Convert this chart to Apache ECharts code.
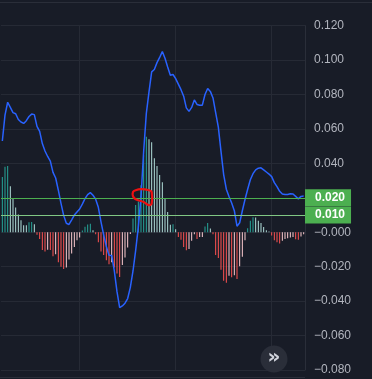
<!DOCTYPE html>
<html>
<head>
<meta charset="utf-8">
<script src="https://cdn.jsdelivr.net/npm/echarts@6/dist/echarts.min.js"></script>
<style>
  html, body { margin: 0; padding: 0; background: #181c27; }
  #chart { width: 372px; height: 379px; }
</style>
</head>
<body>
<div id="chart"></div>
<script>
// MACD 柱状图数值（每根K线一个）
const histValues = [
    0.0321, 0.0380, 0.0385, 0.0267, 0.0196, 0.0143, 0.0103, 0.0070, 0.0041, 0.0040,
    0.0058, 0.0059, 0.0046, -0.0015, -0.0039, -0.0103, -0.0112, -0.0101, -0.0103, -0.0139,
    -0.0128, -0.0174, -0.0201, -0.0213, -0.0205, -0.0159, -0.0124, -0.0085, -0.0046, -0.0031,
    0.0010, 0.0032, 0.0045, 0.0049, 0.0012, -0.0012, -0.0058, -0.0112, -0.0132, -0.0163,
    -0.0186, -0.0174, -0.0205, -0.0240, -0.0260, -0.0190, -0.0147, -0.0089, -0.0010, 0.0080,
    0.0158, 0.0178, 0.0273, 0.0447, 0.0554, 0.0540, 0.0523, 0.0430, 0.0384, 0.0333,
    0.0290, 0.0198, 0.0118, 0.0044, 0.0047, 0.0017, -0.0027, -0.0043, -0.0085, -0.0105,
    -0.0097, -0.0050, -0.0012, -0.0039, -0.0027, -0.0027, 0.0033, 0.0054, 0.0021, -0.0012,
    -0.0132, -0.0150, -0.0218, -0.0281, -0.0294, -0.0252, -0.0262, -0.0250, -0.0272, -0.0198,
    -0.0143, -0.0046, 0.0023, 0.0066, 0.0087, 0.0085, 0.0066, 0.0054, 0.0031, 0.0012,
    0.0005, -0.0019, -0.0046, -0.0058, -0.0066, -0.0050, -0.0039, -0.0035, -0.0030, -0.0028,
    -0.0040, -0.0044, -0.0025, -0.0012
];

// MACD 快线
const macdValues = [
    0.0530, 0.0680, 0.0755, 0.0725, 0.0695, 0.0688, 0.0655, 0.0640, 0.0632, 0.0648,
    0.0672, 0.0686, 0.0683, 0.0615, 0.0586, 0.0515, 0.0472, 0.0440, 0.0413, 0.0348,
    0.0315, 0.0244, 0.0168, 0.0098, 0.0052, 0.0045, 0.0072, 0.0100, 0.0118, 0.0135,
    0.0163, 0.0195, 0.0218, 0.0230, 0.0215, 0.0192, 0.0145, 0.0060, -0.0015, -0.0082,
    -0.0134, -0.0135, -0.0225, -0.0345, -0.0438, -0.0428, -0.0412, -0.0385, -0.0320, -0.0225,
    -0.0105, 0.0031, 0.0205, 0.0470, 0.0690, 0.0815, 0.0931, 0.0945, 0.0985, 0.1015,
    0.1050, 0.1010, 0.0960, 0.0912, 0.0916, 0.0892, 0.0860, 0.0828, 0.0790, 0.0722,
    0.0702, 0.0725, 0.0768, 0.0742, 0.0738, 0.0738, 0.0800, 0.0835, 0.0818, 0.0780,
    0.0695, 0.0610, 0.0470, 0.0335, 0.0250, 0.0208, 0.0170, 0.0125, 0.0035, 0.0055,
    0.0125, 0.0190, 0.0250, 0.0305, 0.0340, 0.0362, 0.0372, 0.0374, 0.0362, 0.0350,
    0.0338, 0.0323, 0.0288, 0.0265, 0.0238, 0.0222, 0.0219, 0.0219, 0.0224, 0.0222,
    0.0208, 0.0194, 0.0208, 0.0210
];

// 水平参考线
const levelValues = [0.020, 0.010];

// 红色手绘圈（K线序号, 数值）
const circleIdx = [49.1, 49.7, 51.6, 55.4, 56.0, 56.2, 55.4, 52.9, 50.4, 49.4];
const circleVal = [0.0234, 0.0244, 0.0250, 0.0244, 0.0234, 0.0167, 0.0157, 0.0176, 0.0192, 0.0209];

const categories = histValues.map((v, i) => String(i));

// 柱子颜色: 正值上升/下降, 负值下降/上升
function histColor(i) {
    const v = histValues[i];
    const prev = i > 0 ? histValues[i - 1] : v;
    if (v >= 0) return v >= prev ? '#26a69a' : '#b2dfdb';
    return v < prev ? '#ff5252' : '#ffcdd2';
}

function fmt(v) {
    const s = Math.abs(v).toFixed(3);
    return (v <= 0 ? '\u2212' : '') + s;
}

const chart = echarts.init(document.getElementById('chart'));

const option = {
    backgroundColor: '#181c27',
    animation: false,
    grid: {
        left: 1,
        right: 67,
        top: 25.6,
        bottom: 9
    },
    xAxis: {
        type: 'category',
        data: categories,
        boundaryGap: true,
        axisLine: { show: false },
        axisTick: { show: false },
        axisLabel: { show: false },
        splitLine: {
            show: true,
            alignWithLabel: true,
            interval: (idx) => idx % 36 === 29,
            lineStyle: { color: '#262a35', width: 1 }
        }
    },
    yAxis: {
        type: 'value',
        position: 'right',
        min: -0.08,
        max: 0.12,
        interval: 0.02,
        axisLine: { show: true, lineStyle: { color: '#2a2e39' } },
        axisTick: { show: false },
        axisLabel: {
            color: '#b2b5be',
            fontSize: 12,
            fontFamily: 'Liberation Sans',
            margin: 9,
            formatter: (v) => Math.abs(v - 0.02) < 1e-9 ? '' : fmt(v)
        },
        splitLine: { lineStyle: { color: '#262a35', width: 1 } }
    },
    series: [
        {
            name: 'hist',
            type: 'bar',
            barWidth: 1,
            data: histValues.map((v, i) => ({ value: v, itemStyle: { color: histColor(i) } })),
            z: 2
        },
        {
            name: 'macd',
            type: 'line',
            data: macdValues,
            symbol: 'none',
            lineStyle: { color: '#2962ff', width: 1.5 },
            z: 4,
            markLine: {
                silent: true,
                symbol: 'none',
                data: levelValues.map((v, i) => ({
                    yAxis: v,
                    lineStyle: { color: i === 0 ? '#4caf50' : '#81c784', width: 1, type: 'solid' }
                })),
                label: {
                    show: true,
                    position: 'end',
                    distance: 0,
                    formatter: (p) => p.value.toFixed(3),
                    backgroundColor: '#4caf50',
                    color: '#ffffff',
                    fontWeight: 'bold',
                    fontSize: 12,
                    fontFamily: 'Liberation Sans',
                    lineHeight: 13,
                    padding: [2, 6, 2, 10]
                }
            }
        }
    ]
};

chart.setOption(option);

// 画面边框、红圈和右下角按钮
const circlePts = circleIdx.map((x, i) => chart.convertToPixel({ gridIndex: 0 }, [x, circleVal[i]]));

chart.setOption({
    graphic: [
        {
            type: 'line',
            shape: { x1: 0, y1: 2.5, x2: 372, y2: 2.5 },
            style: { stroke: '#2a2e39', lineWidth: 1 },
            silent: true
        },
        {
            type: 'line',
            shape: { x1: 0, y1: 377.5, x2: 305, y2: 377.5 },
            style: { stroke: '#2a2e39', lineWidth: 1 },
            silent: true
        },
        {
            type: 'polygon',
            shape: { points: circlePts, smooth: 0.35 },
            style: { stroke: '#ee1111', fill: null, lineWidth: 2.2 },
            z: 100,
            silent: true
        },
        {
            type: 'circle',
            shape: { cx: 274, cy: 359, r: 13.5 },
            style: { fill: '#2a2e39' },
            z: 100,
            silent: true
        },
        {
            type: 'text',
            x: 274,
            y: 358,
            style: {
                text: '\u00bb',
                fill: '#d1d4dc',
                fontSize: 20,
                fontWeight: 'bold',
                fontFamily: 'DejaVu Sans',
                align: 'center',
                verticalAlign: 'middle'
            },
            z: 101,
            silent: true
        }
    ]
});
</script>
</body>
</html>
